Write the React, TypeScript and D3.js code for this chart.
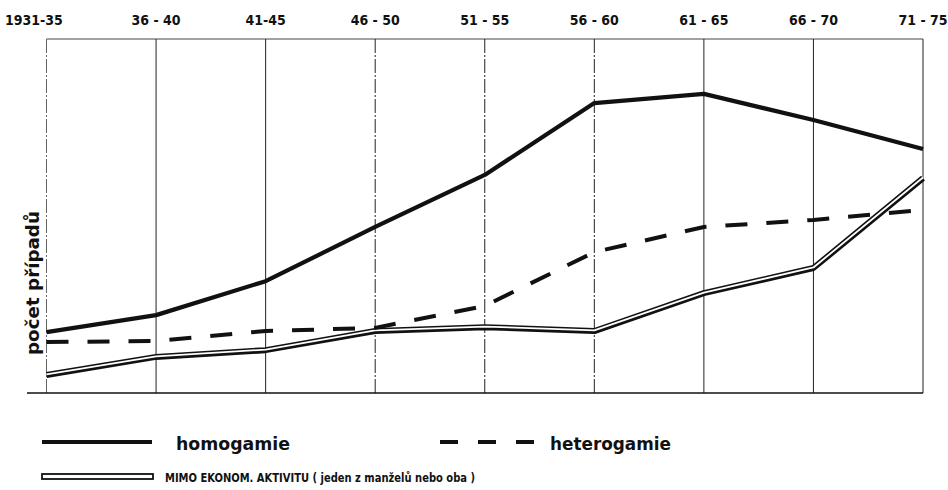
import React from "react";
import * as d3 from "d3";

const periods = ["1931-35", "36 - 40", "41-45", "46 - 50", "51 - 55", "56 - 60", "61 - 65", "66 - 70", "71 - 75"];
const homogamie = [17.2, 22.0, 31.6, 46.9, 61.6, 81.9, 84.5, 77.1, 68.9];
const heterogamie = [14.4, 14.7, 17.5, 18.4, 24.6, 39.8, 46.9, 48.9, 51.7];
const mimo = [5.1, 10.2, 12.1, 17.5, 18.6, 17.5, 28.2, 35.3, 60.7];
const yLabel = "počet případů";
const legendHomo = "homogamie";
const legendHetero = "heterogamie";
const legendMimo = "MIMO EKONOM. AKTIVITU ( jeden z manželů nebo oba )";

const W = 948;
const H = 490;
const condensed = "'DejaVu Sans Condensed', 'DejaVu Sans', sans-serif";
const geo = "'DejaVu Sans', sans-serif";

export default function App() {
  const x = d3.scalePoint<string>().domain(periods).range([46.5, 923]);
  const y = d3.scaleLinear().domain([0, 100]).range([393, 39]);
  const line = d3
    .line<number>()
    .x((_, i) => x(periods[i]) as number)
    .y((d) => y(d));

  const x0 = x(periods[0]) as number;
  const x1 = x(periods[periods.length - 1]) as number;

  return (
    <div style={{ position: "absolute", left: 0, top: 0 }}>
      <svg width={W} height={H} style={{ display: "block", background: "#fff" }}>
        {/* top border */}
        <line x1={x0} x2={x1} y1={y(100)} y2={y(100)} stroke="#444" strokeWidth={1} />
        {/* vertical gridlines */}
        {periods.map((p, i) => (
          <line
            key={p}
            x1={x(p)}
            x2={x(p)}
            y1={y(100)}
            y2={y(0)}
            stroke={i === 0 ? "#666" : "#222"}
            strokeWidth={1}
            strokeDasharray={i === 0 || i === 3 || i === 4 || i === 5 ? "14,2,2,2" : undefined}
          />
        ))}
        {/* baseline */}
        <line x1={27} x2={x1} y1={y(0)} y2={y(0)} stroke="#111" strokeWidth={1.6} />

        {/* top labels */}
        {periods.map((p, i) => (
          <text
            key={p}
            x={i === 0 ? 5 : (x(p) as number)}
            y={25}
            textAnchor={i === 0 ? "start" : "middle"}
            fontFamily={condensed}
            fontWeight="bold"
            fontSize={14}
            fill="#111"
          >
            {p}
          </text>
        ))}

        {/* y label */}
        <text
          transform="translate(39,283) rotate(-90)"
          textAnchor="middle"
          fontFamily={condensed}
          fontWeight="bold"
          fontSize={18}
          textLength={144}
          lengthAdjust="spacingAndGlyphs"
          fill="#111"
        >
          {yLabel}
        </text>

        {/* series */}
        <path d={line(mimo) || ""} fill="none" stroke="#111" strokeWidth={6} strokeLinejoin="round" />
        <path d={line(mimo) || ""} fill="none" stroke="#fff" strokeWidth={1.8} strokeLinejoin="round" transform="translate(0,-0.6)" />
        <path d={line(heterogamie) || ""} fill="none" stroke="#111" strokeWidth={4} strokeDasharray="22,19" />
        <path d={line(homogamie) || ""} fill="none" stroke="#111" strokeWidth={4.2} strokeLinejoin="round" />

        {/* legend */}
        <line x1={42} x2={152} y1={442} y2={442} stroke="#111" strokeWidth={4} />
        <text x={176} y={450} fontFamily={geo} fontWeight="bold" fontSize={18} textLength={114} lengthAdjust="spacingAndGlyphs" fill="#111">
          {legendHomo}
        </text>
        <line x1={440} x2={534} y1={442} y2={442} stroke="#111" strokeWidth={4} strokeDasharray="18,20" />
        <text x={550} y={450} fontFamily={geo} fontWeight="bold" fontSize={18} textLength={121} lengthAdjust="spacingAndGlyphs" fill="#111">
          {legendHetero}
        </text>
        <rect x={42} y={474} width={111} height={5} fill="#fff" stroke="#111" strokeWidth={1.8} />
        <text x={165} y={482} fontFamily={condensed} fontWeight="bold" fontSize={12} textLength={310} lengthAdjust="spacingAndGlyphs" fill="#111">
          {legendMimo}
        </text>
      </svg>
    </div>
  );
}
